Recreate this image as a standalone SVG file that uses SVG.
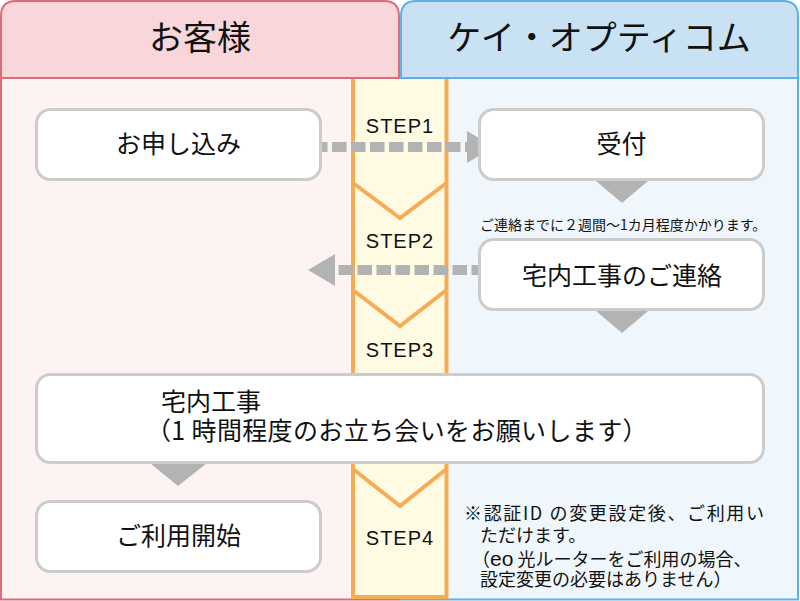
<svg xmlns="http://www.w3.org/2000/svg" width="800" height="601" viewBox="0 0 800 601">
<style>
  text { font-family: "Noto Sans CJK JP", "Liberation Sans", sans-serif; fill: #111; }
  .hdr { font-size: 34px; text-anchor: middle; }
  .box { fill: #ffffff; stroke: #cccccc; stroke-width: 3; }
  .lbl { font-size: 25px; text-anchor: middle; }
  .step { font-family: "Liberation Sans", "Noto Sans CJK JP", sans-serif; font-size: 20px; text-anchor: middle; letter-spacing: 1px; }
  .chev { fill: none; stroke: #f5ac52; stroke-width: 4; }
  .dash { fill: none; stroke: #b3b3b3; stroke-width: 10; stroke-dasharray: 14.5 4.5; }
  .tri { fill: #b3b3b3; }
  .note { font-size: 18px; }
</style>

<g id="lane-customer">
  <path d="M1,599 V16 Q1,1 16,1 H384 Q399,1 399,16 V599 Z" fill="#fdf3f2"/>
  <path d="M1,78 V16 Q1,1 16,1 H384 Q399,1 399,16 V78 Z" fill="#f8d6d9"/>
  <path d="M1,599.5 V16 Q1,1 16,1 H384 Q399,1 399,16 V599.5 Z M1,78 H399" fill="none" stroke="#e06b78" stroke-width="2"/>
  <text class="hdr" x="200" y="50">お客様</text>
</g>

<g id="lane-company">
  <path d="M401,599 V16 Q401,1 416,1 H783 Q798,1 798,16 V599 Z" fill="#f0f7fc"/>
  <path d="M401,78 V16 Q401,1 416,1 H783 Q798,1 798,16 V78 Z" fill="#c8e2f4"/>
  <path d="M401,599.5 V16 Q401,1 416,1 H783 Q798,1 798,16 V599.5 Z M401,78 H798" fill="none" stroke="#5eb1e3" stroke-width="2"/>
  <text class="hdr" x="599" y="50">ケイ・オプティコム</text>
</g>

<g id="steps">
  <rect x="353" y="79" width="93.5" height="518" fill="#fffbe3"/>
  <path class="chev" d="M353,79 V597 H446.5 V79"/>
  <path class="chev" d="M353,183 L400,218 L446.5,183"/>
  <path class="chev" d="M353,290 L400,326 L446.5,290"/>
  <path class="chev" d="M353,469 L400,506 L446.5,469"/>
  <text class="step" x="400" y="133">STEP1</text>
  <text class="step" x="400" y="248">STEP2</text>
  <text class="step" x="400" y="357">STEP3</text>
  <text class="step" x="400" y="545">STEP4</text>
</g>

<g id="connectors">
  <path class="dash" d="M313,147 H467"/>
  <polygon class="tri" points="467,131 494,147 467,163"/>
  <path class="dash" d="M486,270 H335"/>
  <polygon class="tri" points="335,254 308,270 335,286"/>
  <polygon class="tri" points="596,181 648,181 622,203"/>
  <polygon class="tri" points="596,311 648,311 622,333"/>
  <polygon class="tri" points="150,463 207,463 178,486"/>
</g>

<g id="node-apply">
  <rect class="box" x="36.5" y="109.5" width="284" height="70" rx="14"/>
  <text class="lbl" x="178.5" y="153">お申し込み</text>
</g>

<g id="node-accept">
  <rect class="box" x="479.5" y="109.5" width="284" height="70" rx="14"/>
  <text class="lbl" x="621.5" y="153">受付</text>
</g>

<g id="note-period">
  <text x="480" y="230" font-size="14">ご連絡までに２週間〜1カ月程度かかります。</text>
</g>

<g id="node-contact">
  <rect class="box" x="479.5" y="239.5" width="284" height="70" rx="14"/>
  <text class="lbl" x="622" y="285">宅内工事のご連絡</text>
</g>

<g id="node-work">
  <rect class="box" x="36.5" y="374.5" width="727" height="88" rx="14"/>
  <text font-size="25" x="161" y="411">宅内工事</text>
  <text font-size="25" x="146" y="440" letter-spacing="0.35">（1 時間程度のお立ち会いをお願いします）</text>
</g>

<g id="node-start">
  <rect class="box" x="36.5" y="501.5" width="284" height="70" rx="14"/>
  <text class="lbl" x="178.5" y="545">ご利用開始</text>
</g>

<g id="note-auth">
  <text class="note" x="464" y="520" textLength="300" lengthAdjust="spacing">※認証ID の変更設定後、ご利用い</text>
  <text class="note" x="480" y="541.5">ただけます。</text>
  <text class="note" x="472" y="566">（<tspan font-size="21" font-family="Liberation Sans, sans-serif">eo</tspan> 光ルーターをご利用の場合、</text>
  <text class="note" x="480" y="585.5">設定変更の必要はありません）</text>
</g>
</svg>
